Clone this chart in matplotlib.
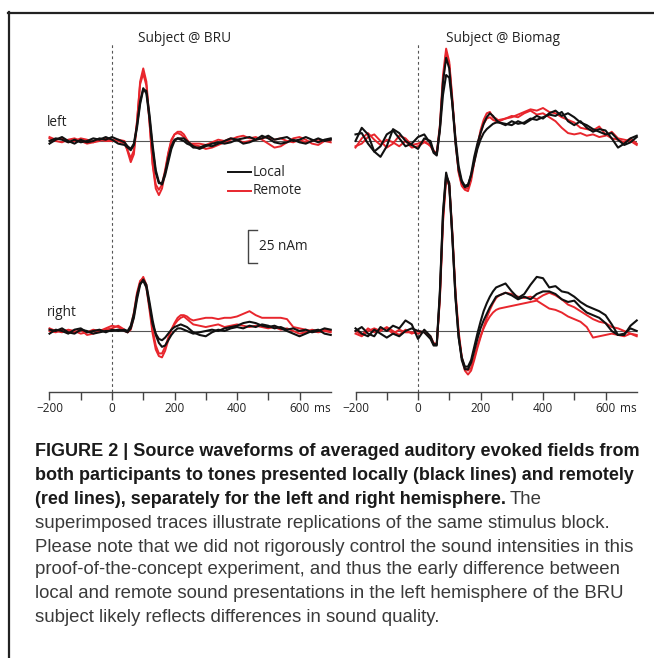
import matplotlib

matplotlib.use("Agg")
import matplotlib.pyplot as plt
from matplotlib.lines import Line2D
from matplotlib.transforms import ScaledTranslation

W, H = 654, 658

# time grid (ms)
times = [-200, -180, -160, -140, -120, -100, -80, -60, -40, -20, 0, 20, 40,
         50, 60, 70, 80, 90, 100, 110, 120, 130, 140, 150, 160, 170, 180, 190, 200, 210, 220, 230, 240, 250, 260,
         280, 300, 320, 340, 360, 380, 400, 420, 440, 460, 480, 500, 520, 540, 560, 580, 600, 620, 640, 660, 680, 700]

# source waveforms (nAm), Subject @ BRU, left hemisphere
bru_left_local = [
    [0, 2, 1, -1, 1, -1, 0, 2, 1, 3, 1, -2, -3,
     -5, -7, -3, 10, 28, 39, 38, 20, -3, -22, -31, -33, -26, -16, -6, 0, 2, 2, 2, 0, -2, -4,
     -6, -4, -2, -1, -2, -1, 1, 2, 3, 1, 2, 4, 1, 2, 3, 0, 1, 3, 1, -1, 1, 2],
    [-2, 1, 3, 0, -2, 1, -1, 0, 2, 1, 3, 1, -1,
     -4, -6, -2, 12, 30, 40, 36, 17, -6, -24, -32, -32, -24, -13, -4, 1, 2, 1, 0, -2, -3, -5,
     -5, -3, -4, -2, 0, 2, 1, -2, -1, 1, 4, 2, -1, -2, -1, 1, -1, -2, 0, 2, 0, 1],
]
bru_left_remote = [
    [2, 0, -1, 1, 2, 0, -2, -1, 1, 0, 0, 1, 0,
     -8, -16, -10, 14, 45, 55, 45, 15, -18, -36, -41, -36, -24, -10, 0, 5, 7, 7, 5, 1, -2, -3,
     -4, -6, -5, -3, -1, 1, 3, 4, 2, 3, 1, -2, -5, -4, -1, 2, 3, 1, -2, -3, 0, 1],
    [3, 1, 2, -1, 0, 2, 1, -1, 0, 2, 1, 0, -2,
     -7, -13, -7, 15, 43, 51, 42, 14, -17, -33, -37, -33, -22, -9, 1, 5, 6, 5, 3, 0, -2, -2,
     -2, -3, -1, 1, 0, 2, 1, -1, 0, 1, 2, 3, 1, 2, 0, -1, 1, -1, 0, 1, 0, -1],
]

# Subject @ BRU, right hemisphere
bru_right_local = [
    [1, 0, 2, -1, -2, 1, 0, -2, -1, 0, 0, 1, 0,
     -1, 2, 10, 24, 35, 39, 35, 22, 8, -3, -9, -12, -11, -7, -3, 0, 2, 2, 1, 0, -1, -2,
     -1, 0, 1, 0, 2, 3, 4, 6, 7, 6, 4, 3, 4, 2, 0, -2, -4, -2, 0, 1, -2, -3],
    [-2, 1, 0, -2, 1, 2, -1, 0, 1, -1, 1, 0, 1,
     0, 4, 13, 27, 36, 38, 33, 19, 5, -2, -6, -7, -5, -2, 1, 3, 4, 5, 4, 3, 1, -1,
     -3, -4, -1, 1, 0, 2, 3, 2, 4, 3, 5, 4, 2, 3, 1, 2, 0, 1, -1, 0, 2, 1],
]
bru_right_remote = [
    [2, 0, -1, 1, 0, -2, -1, 1, 0, 2, 4, 3, 0,
     -1, 3, 14, 29, 38, 40, 33, 16, -2, -14, -19, -20, -15, -7, 1, 6, 10, 12, 12, 11, 9, 8,
     9, 10, 10, 9, 10, 10, 11, 13, 15, 12, 10, 10, 10, 10, 9, 3, 2, 1, 0, -1, 0, -1],
    [0, -1, 1, 0, -1, 1, -3, -2, 0, 1, 2, 4, 1,
     -1, 1, 11, 26, 37, 41, 35, 19, 1, -11, -17, -17, -12, -5, 1, 5, 8, 10, 11, 9, 7, 5,
     4, 3, 4, 5, 3, 4, 5, 4, 3, 4, 3, 2, 3, 1, 2, 0, -2, -1, 1, 0, 1, 0],
]

# Subject @ Biomag, left hemisphere
bio_left_local = [
    [0, 10, 5, -8, -12, -4, 9, 6, 0, -3, -6, 2, 0,
     -8, -10, 10, 45, 63, 55, 28, -2, -22, -31, -35, -34, -25, -12, -2, 6, 13, 18, 21, 19, 16, 14,
     12, 15, 13, 14, 17, 16, 18, 20, 19, 22, 15, 12, 15, 10, 7, 9, 8, 2, -5, -2, 2, 4],
    [5, 6, -2, -8, -4, 5, 8, 2, -4, -2, 3, 5, -2,
     -9, -11, 8, 35, 50, 48, 28, 2, -19, -30, -34, -33, -26, -16, -6, 1, 6, 9, 11, 13, 14, 14,
     13, 12, 15, 13, 16, 19, 17, 21, 23, 19, 21, 18, 14, 12, 9, 7, 5, 6, 1, -3, -1, 3],
]
bio_left_remote = [
    [-4, -2, 3, 5, 0, -5, -2, 4, 2, -3, -2, 0, -4,
     -8, -9, 12, 50, 70, 60, 32, 0, -24, -34, -37, -38, -30, -16, -4, 8, 16, 21, 22, 18, 17, 15,
     17, 18, 20, 22, 24, 23, 25, 22, 21, 18, 16, 14, 10, 9, 8, 11, 5, 2, 1, -1, 2, -2],
    [-5, 2, 6, 1, -3, 1, -1, -4, 0, -5, -4, -1, -3,
     -7, -10, 9, 45, 67, 58, 30, 0, -23, -33, -36, -36, -28, -15, -4, 6, 13, 17, 18, 16, 15, 16,
     17, 19, 18, 21, 23, 20, 21, 18, 15, 10, 6, 5, 6, 4, 5, 3, 4, 7, 2, 1, 0, -3],
]

# Subject @ Biomag, right hemisphere
bio_right_local = [
    [0, 3, -2, -4, 3, 0, 4, 2, 8, 5, -6, 1, -4,
     -10, -10, 30, 90, 120, 110, 70, 25, -5, -20, -27, -27, -22, -12, -2, 7, 15, 21, 26, 30, 33, 34,
     36, 30, 25, 28, 35, 41, 40, 33, 34, 30, 29, 26, 22, 19, 17, 15, 12, 5, -3, -3, 4, 8],
    [2, -2, -4, 1, -2, -5, -2, -4, 0, 2, 0, -1, -6,
     -11, -11, 28, 88, 118, 112, 72, 26, -4, -22, -29, -29, -24, -15, -6, 2, 8, 13, 18, 22, 26, 27,
     29, 27, 24, 26, 24, 28, 30, 30, 28, 24, 22, 23, 18, 14, 12, 10, 6, 0, -3, -2, 2, 0],
]
bio_right_remote = [
    [-2, -4, 0, 2, 0, 3, 0, -3, 1, -2, 0, -1, -5,
     -10, -10, 25, 85, 117, 112, 75, 30, 0, -20, -30, -33, -30, -22, -13, -5, 3, 10, 16, 21, 25, 27,
     29, 28, 26, 25, 26, 24, 27, 29, 27, 24, 20, 18, 15, 12, 9, 7, 6, 3, 2, 0, -2, -3],
    [0, -3, 2, -1, 1, 2, -2, 1, -1, -1, -2, 0, -4,
     -9, -10, 24, 82, 115, 110, 72, 28, -2, -20, -28, -30, -28, -20, -11, -4, 2, 7, 11, 14, 16, 17,
     18, 19, 20, 21, 22, 23, 20, 17, 16, 14, 11, 9, 7, 3, -5, -4, -3, -2, -3, -4, -2, -4],
]

tick_values = [-200, -100, 0, 100, 200, 300, 400, 500, 600]
tick_labels = ["\u2212200", "", "0", "", "200", "", "400", "", "600"]

panel_font = ["Open Sans", "DejaVu Sans"]
caption_font = ["Liberation Sans Narrow", "Liberation Sans", "DejaVu Sans"]
BLACK = "#111111"
RED = "#e8262d"
TEXT = "#222222"
PX_PER_NAM = 1.32
PX_PER_MS = 0.3125


def fx(x):
    return x / W


def fy(y):
    return 1 - y / H


def trace_axes(fig, zero_px, top_px, bottom_px, base_px):
    left = zero_px - 200 * PX_PER_MS
    ax = fig.add_axes([fx(left), fy(bottom_px), 900 * PX_PER_MS / W, (bottom_px - top_px) / H])
    ax.set_xlim(-200, 700)
    ax.set_ylim(-(bottom_px - base_px) / PX_PER_NAM, (base_px - top_px) / PX_PER_NAM)
    ax.axis("off")
    ax.patch.set_alpha(0)
    return ax


def draw_traces(ax, local, remote):
    ax.axhline(0, color="#555555", lw=0.8, zorder=1)
    for vals in remote:
        ax.plot(times, vals, color=RED, lw=1.4, zorder=2, clip_on=False, solid_joinstyle="round")
    for vals in local:
        ax.plot(times, vals, color=BLACK, lw=1.5, zorder=3, clip_on=False, solid_joinstyle="round")


def time_axis(fig, zero_px):
    left = zero_px - 200 * PX_PER_MS
    ax = fig.add_axes([fx(left), fy(392), 900 * PX_PER_MS / W, (392 - 43) / H])
    ax.set_xlim(-200, 700)
    ax.set_ylim(0, 1)
    ax.patch.set_alpha(0)
    for side in ["top", "left", "right"]:
        ax.spines[side].set_visible(False)
    ax.spines["bottom"].set_color("#444444")
    ax.spines["bottom"].set_linewidth(1.0)
    ax.set_yticks([])
    ax.set_xticks(tick_values, labels=tick_labels)
    ax.tick_params(axis="x", direction="out", length=5.5, width=1.0, color="#444444",
                   labelsize=8.5, pad=2, labelcolor=TEXT)
    for lab in ax.get_xticklabels():
        lab.set_family(panel_font)
    shift = ScaledTranslation(0, -7.5 / 72, fig.dpi_scale_trans)
    ax.text(645, 0, "ms", transform=ax.get_xaxis_transform() + shift, ha="left", va="top",
            fontsize=8.5, family=panel_font, color=TEXT)
    ax.axvline(0, color="#555555", lw=0.8, ls=(0, (2.5, 2.5)), zorder=0)
    return ax


fig = plt.figure(figsize=(W / 100, H / 100), dpi=100)

# page frame
fig.add_artist(Line2D([fx(8), fx(653)], [fy(12.5), fy(12.5)], transform=fig.transFigure, color="#222222", lw=1.6))
fig.add_artist(Line2D([fx(8.5), fx(8.5)], [fy(12), fy(658)], transform=fig.transFigure, color="#222222", lw=1.6))

time_axis(fig, 112)
time_axis(fig, 418)

ax_bl = trace_axes(fig, 112, 30, 215, 141)
ax_br = trace_axes(fig, 112, 150, 392, 331)
ax_ml = trace_axes(fig, 418, 30, 215, 141)
ax_mr = trace_axes(fig, 418, 150, 392, 331)

draw_traces(ax_bl, bru_left_local, bru_left_remote)
draw_traces(ax_br, bru_right_local, bru_right_remote)
draw_traces(ax_ml, bio_left_local, bio_left_remote)
draw_traces(ax_mr, bio_right_local, bio_right_remote)

# labels
label_size = 9.8
fig.text(fx(138), fy(38), "Subject @ BRU", ha="left", va="center", fontsize=label_size, family=panel_font, color=TEXT)
fig.text(fx(446), fy(38), "Subject @ Biomag", ha="left", va="center", fontsize=label_size, family=panel_font, color=TEXT)
fig.text(fx(47), fy(122), "left", ha="left", va="center", fontsize=label_size, family=panel_font, color=TEXT)
fig.text(fx(47), fy(313), "right", ha="left", va="center", fontsize=label_size, family=panel_font, color=TEXT)

# legend
fig.add_artist(Line2D([fx(228), fx(251)], [fy(172), fy(172)], transform=fig.transFigure, color=BLACK, lw=1.4))
fig.add_artist(Line2D([fx(228), fx(251)], [fy(191), fy(191)], transform=fig.transFigure, color=RED, lw=1.4))
fig.text(fx(253), fy(172), "Local", ha="left", va="center", fontsize=label_size, family=panel_font, color=TEXT)
fig.text(fx(253), fy(191), "Remote", ha="left", va="center", fontsize=label_size, family=panel_font, color=TEXT)

# 25 nAm scale bar (drawn in right-hemisphere data units)
bar_t = (248 - 112) / PX_PER_MS
tick_t = (257 - 112) / PX_PER_MS
bar_lo = (331 - 263) / PX_PER_NAM
bar_hi = bar_lo + 25
ax_br.plot([tick_t, bar_t, bar_t, tick_t], [bar_hi, bar_hi, bar_lo, bar_lo], color="#444444", lw=1.0, clip_on=False)
ax_br.text((259 - 112) / PX_PER_MS, (bar_lo + bar_hi) / 2, "25 nAm", ha="left", va="center",
           fontsize=label_size, family=panel_font, color=TEXT)

# caption
cap_x = fx(35)
line_y = [452, 476, 500, 523, 547, 570, 594, 617]
bold_lines = [
    "FIGURE 2 | Source waveforms of averaged auditory evoked fields from",
    "both participants to tones presented locally (black lines) and remotely",
    "(red lines), separately for the left and right hemisphere.",
]
plain_lines = [
    "superimposed traces illustrate replications of the same stimulus block.",
    "Please note that we did not rigorously control the sound intensities in this",
    "proof-of-the-concept experiment, and thus the early difference between",
    "local and remote sound presentations in the left hemisphere of the BRU",
    "subject likely reflects differences in sound quality.",
]
bold_size = 13.0
plain_size = 13.4
for y, txt in zip(line_y[:3], bold_lines):
    t = fig.text(cap_x, fy(y), txt, ha="left", va="center", fontsize=bold_size, weight="bold",
                 family=caption_font, color="#1a1a1a")
renderer = fig.canvas.get_renderer()
bb = t.get_window_extent(renderer=renderer)
fig.text(bb.x1 / W + fx(4), fy(line_y[2]), "The", ha="left", va="center", fontsize=plain_size,
         family=caption_font, color="#3a3a3a")
for y, txt in zip(line_y[3:], plain_lines):
    fig.text(cap_x, fy(y), txt, ha="left", va="center", fontsize=plain_size, family=caption_font, color="#3a3a3a")

fig.savefig("out.png", dpi=100)
